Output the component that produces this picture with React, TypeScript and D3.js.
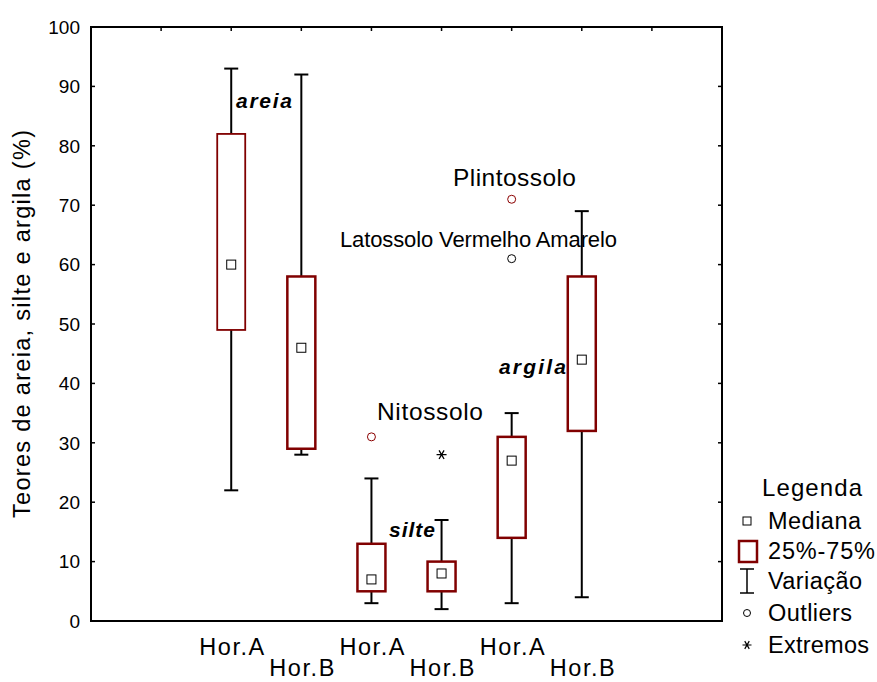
import React from "react";
import * as d3 from "d3";

const categories = ["Hor.A", "Hor.B", "Hor.A", "Hor.B", "Hor.A", "Hor.B"];
const positions = [2, 3, 4, 5, 6, 7];
const whiskerLow = [22, 28, 3, 2, 3, 4];
const whiskerHigh = [93, 92, 24, 17, 35, 69];
const q1 = [49, 29, 5, 5, 14, 32];
const q3 = [82, 58, 13, 10, 31, 58];
const medians = [60, 46, 7, 8, 27, 44];
const outliers = [
  { pos: 4, value: 31, color: "#8b0000" },
  { pos: 6, value: 71, color: "#8b0000" },
  { pos: 6, value: 61, color: "#000" },
];
const extremes = [{ pos: 5, value: 28 }];
const yTicks = [0, 10, 20, 30, 40, 50, 60, 70, 80, 90, 100];
const legendItems = ["Mediana", "25%-75%", "Variação", "Outliers", "Extremos"];

const FONT = "Liberation Sans, Arial, sans-serif";
const RED = "#800000";

export default function App() {
  const left = 91, right = 722, top = 27, bottom = 621;
  const x = d3.scaleLinear().domain([0, 9]).range([left, right]);
  const y = d3.scaleLinear().domain([0, 100]).range([bottom, top]);
  const boxW = 28;
  const capW = 14;

  const star = (cx: number, cy: number, r: number) => {
    const a = (Math.PI / 180) * 60;
    return [
      `M${cx - r},${cy}L${cx + r},${cy}`,
      `M${cx - r * Math.cos(a)},${cy - r * Math.sin(a)}L${cx + r * Math.cos(a)},${cy + r * Math.sin(a)}`,
      `M${cx + r * Math.cos(a)},${cy - r * Math.sin(a)}L${cx - r * Math.cos(a)},${cy + r * Math.sin(a)}`,
    ].join("");
  };

  const legX = 747;
  const legTextX = 768;
  const legWidths = [93, 107, 94, 84, 101];
  const legY = [521, 551, 581, 613, 645];

  return (
    <svg width={877} height={682} style={{ display: "block", position: "absolute", left: 0, top: 0 }} fontFamily={FONT}>
      <rect width={877} height={682} fill="#fff" />
      <rect x={left} y={top} width={right - left} height={bottom - top} fill="none" stroke="#000" strokeWidth={2} />
      {yTicks.map((t) => (
        <g key={t}>
          {t > 0 && t < 100 && (
            <>
              <line x1={left} x2={left + 4} y1={y(t)} y2={y(t)} stroke="#000" strokeWidth={1.5} />
              <line x1={right - 4} x2={right} y1={y(t)} y2={y(t)} stroke="#000" strokeWidth={1.5} />
            </>
          )}
          <text x={80} y={y(t)} dy="0.36em" textAnchor="end" fontSize={19} fill="#000">
            {t}
          </text>
        </g>
      ))}
      {d3.range(1, 9).map((p) => (
        <line key={p} x1={x(p)} x2={x(p)} y1={top} y2={top + 4} stroke="#000" strokeWidth={1.5} />
      ))}
      {positions.map((p, i) => {
        const cx = x(p);
        return (
          <g key={i}>
            <line x1={cx} x2={cx} y1={y(whiskerLow[i])} y2={y(whiskerHigh[i])} stroke="#000" strokeWidth={2} />
            <line x1={cx - capW / 2} x2={cx + capW / 2} y1={y(whiskerLow[i])} y2={y(whiskerLow[i])} stroke="#000" strokeWidth={2} />
            <line x1={cx - capW / 2} x2={cx + capW / 2} y1={y(whiskerHigh[i])} y2={y(whiskerHigh[i])} stroke="#000" strokeWidth={2} />
            <rect
              x={cx - boxW / 2}
              y={y(q3[i])}
              width={boxW}
              height={y(q1[i]) - y(q3[i])}
              fill="#fff"
              stroke={RED}
              strokeWidth={i === 0 ? 1.8 : 2.5}
            />
            <rect x={cx - 4.5} y={y(medians[i]) - 4.5} width={9} height={9} fill="#fff" stroke="#000" strokeWidth={1} />
            <text
              x={cx - 32}
              y={p % 2 === 0 ? 655 : 676}
              fontSize={23.5}
              textLength={65}
              lengthAdjust="spacing"
              fill="#000"
            >
              {categories[i]}
            </text>
          </g>
        );
      })}
      {outliers.map((o, i) => (
        <circle key={i} cx={x(o.pos)} cy={y(o.value)} r={4} fill="#fff" stroke={o.color} strokeWidth={1} />
      ))}
      {extremes.map((e, i) => (
        <path key={i} d={star(x(e.pos), y(e.value), 5)} stroke="#000" strokeWidth={1.3} fill="none" />
      ))}
      <text x={236} y={108} fontSize={21} fontWeight="bold" fontStyle="italic" textLength={56} lengthAdjust="spacing">areia</text>
      <text x={389} y={537} fontSize={21} fontWeight="bold" fontStyle="italic" textLength={46} lengthAdjust="spacing">silte</text>
      <text x={499} y={374} fontSize={21} fontWeight="bold" fontStyle="italic" textLength={67} lengthAdjust="spacing">argila</text>
      <text x={377} y={420} fontSize={24.5} textLength={106} lengthAdjust="spacing">Nitossolo</text>
      <text x={453} y={186} fontSize={24.5} textLength={123} lengthAdjust="spacing">Plintossolo</text>
      <text x={340} y={247} fontSize={22} textLength={277} lengthAdjust="spacing">Latossolo Vermelho Amarelo</text>
      <text transform="translate(30,518) rotate(-90)" fontSize={23.5} textLength={388} lengthAdjust="spacing">
        Teores de areia, silte e argila (%)
      </text>
      <text x={762} y={496} fontSize={24} textLength={100} lengthAdjust="spacing">Legenda</text>
      <rect x={legX - 4} y={521 - 4} width={8} height={8} fill="#fff" stroke="#000" strokeWidth={1} />
      <rect x={legX - 8} y={541} width={18} height={21} fill="#fff" stroke={RED} strokeWidth={2.5} />
      <line x1={legX} x2={legX} y1={569} y2={593} stroke="#000" strokeWidth={1.5} />
      <line x1={legX - 7} x2={legX + 7} y1={569} y2={569} stroke="#000" strokeWidth={1.5} />
      <line x1={legX - 7} x2={legX + 7} y1={593} y2={593} stroke="#000" strokeWidth={1.5} />
      <circle cx={legX} cy={613} r={3.5} fill="#fff" stroke="#000" strokeWidth={1} />
      <path d={star(legX, 645, 4.5)} stroke="#000" strokeWidth={1.2} fill="none" />
      {legendItems.map((t, i) => (
        <text key={t} x={legTextX} y={legY[i]} dy="0.36em" fontSize={23.5} textLength={legWidths[i]} lengthAdjust="spacing">
          {t}
        </text>
      ))}
    </svg>
  );
}
